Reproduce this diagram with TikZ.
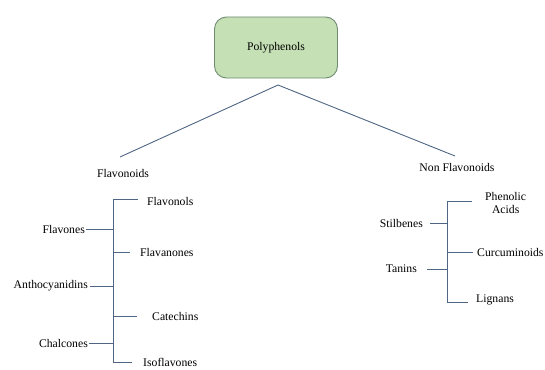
\documentclass[tikz,border=0pt]{standalone}
\usepackage{fontspec}
\setmainfont{Liberation Serif}
\usepackage{tikz}
\usetikzlibrary{positioning}

\definecolor{boxgreen}{HTML}{C5E0B4}
\definecolor{boxedge}{HTML}{6F8C73}
\definecolor{linkblue}{HTML}{4F6584}

\tikzset{
    rootbox/.style={draw=boxedge, fill=boxgreen, rounded corners=12pt, minimum width=123pt, minimum height=61pt, line width=0.9pt},
    label/.style={inner sep=0pt, font=\fontsize{11.7}{13}\selectfont, align=center},
    branch/.style={draw=linkblue, line width=0.9pt}
}

\begin{document}
\begin{tikzpicture}[x=1pt, y=-1pt]
            \useasboundingbox (0,0) rectangle (545,369);

            % Root
            \node[rootbox, label] (poly) at (276,47.5) {Polyphenols};
            \coordinate (apex) at (278,85);

            % Two classes
            \node[label] (flavonoids) at (123,173) {Flavonoids};
            \node[label] (nonflav) at (457,167) {Non Flavonoids};
            \coordinate (lend) at (120,157);
            \coordinate (rend) at (455,156);
            \draw[branch] (apex) -- (lend);
            \draw[branch] (apex) -- (rend);

            % Flavonoids subclasses
            \coordinate (ltop) at (113,199);
            \coordinate (lbot) at (113,362);
            \draw[branch] (ltop) -- (lbot);

            \node[label, anchor=west] (flavonols) at (147,201) {Flavonols};
            \node[label, anchor=west] (flavanones) at (140,252) {Flavanones};
            \node[label, anchor=west] (catechins) at (152,316) {Catechins};
            \node[label, anchor=west] (isoflavones) at (143,362) {Isoflavones};
            \node[label, anchor=east] (flavones) at (85,229) {Flavones};
            \node[label, anchor=east] (anthocyanidins) at (88,286) {Anthocyanidins};
            \node[label, anchor=east] (chalcones) at (88,343) {Chalcones};

            \draw[branch, shorten >=9pt] (ltop) -- (flavonols.west |- ltop);
            \draw[branch, shorten >=10pt] (ltop |- flavanones.west) -- (flavanones.west);
            \draw[branch, shorten >=15pt] (ltop |- catechins.west) -- (catechins.west);
            \draw[branch, shorten >=11pt] (lbot) -- (isoflavones.west |- lbot);
            \draw[branch, shorten >=1pt] (ltop |- flavones.east) -- (flavones.east);
            \draw[branch, shorten >=2pt] (ltop |- anthocyanidins.east) -- (anthocyanidins.east);
            \draw[branch, shorten >=1pt] (ltop |- chalcones.east) -- (chalcones.east);

            % Non Flavonoids subclasses
            \coordinate (rtop) at (447,201);
            \coordinate (rbot) at (447,302);
            \draw[branch] (rtop) -- (rbot);

            \node[label, anchor=west] (phenolic) at (485,203) {Phenolic\\Acids};
            \node[label, anchor=west] (curcuminoids) at (477,252) {Curcuminoids};
            \node[label, anchor=west] (lignans) at (476,300) {Lignans};
            \node[label, anchor=east] (stilbenes) at (423,223) {Stilbenes};
            \node[label, anchor=east] (tanins) at (417,269) {Tanins};

            \draw[branch, shorten >=13pt] (rtop) -- (phenolic.west |- rtop);
            \draw[branch, shorten >=4pt] (rtop |- curcuminoids.west) -- (curcuminoids.west);
            \draw[branch, shorten >=8pt] (rbot) -- (lignans.west |- rbot);
            \draw[branch, shorten >=7pt] (rtop |- stilbenes.east) -- (stilbenes.east);
            \draw[branch, shorten >=10pt] (rtop |- tanins.east) -- (tanins.east);
\end{tikzpicture}
\end{document}
